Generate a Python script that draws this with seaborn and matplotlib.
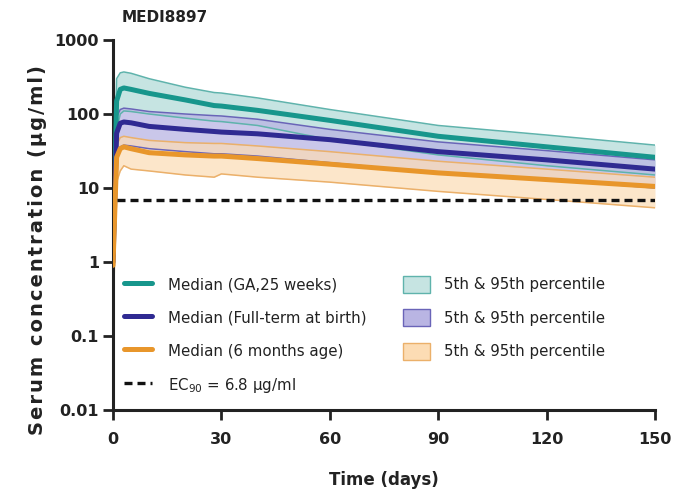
import numpy as np
import pandas as pd
import matplotlib
matplotlib.use("Agg")
import matplotlib.pyplot as plt
import seaborn as sns
from matplotlib.patches import Patch
from matplotlib.lines import Line2D

# ---- data ----
days = [0, 1, 2, 3, 5, 10, 20, 28, 30, 40, 60, 90, 120, 150]

ga_median = [1.2, 150, 215, 225, 215, 190, 155, 130, 128, 112, 82, 50, 36, 26]
ga_p95 = [3.0, 300, 360, 370, 355, 300, 230, 195, 192, 165, 115, 70, 52, 38]
ga_p5 = [0.09, 60, 100, 110, 108, 100, 88, 80, 79, 70, 45, 28, 20, 15]

ft_median = [1.0, 55, 75, 78, 76, 68, 62, 58, 57, 54, 45, 31, 24, 18]
ft_p95 = [2.0, 90, 115, 120, 117, 108, 100, 95, 94, 85, 62, 42, 32, 24]
ft_p5 = [0.3, 28, 36, 38, 37, 34, 31, 29, 29, 27, 22, 16, 13, 10]

m6_median = [0.9, 26, 34, 36, 34, 30, 28, 27, 27, 25, 21, 16, 13, 10.5]
m6_p95 = [1.5, 38, 48, 50, 48, 44, 41, 40, 40, 37, 31, 23, 18, 14]
m6_p5 = [0.15, 12, 17, 20, 18, 17, 15, 14, 15.5, 14, 12, 9, 7, 5.4]

ec90 = 6.8

median_labels = ["Median (GA,25 weeks)", "Median (Full-term at birth)", "Median (6 months age)"]
band_label = "5th & 95th percentile"
ec90_label = r"EC$_{90}$ = 6.8 $\mu$g/ml"
x_ticks = [0, 30, 60, 90, 120, 150]
y_ticks = [0.01, 0.1, 1, 10, 100, 1000]
y_ticklabels = ["0.01", "0.1", "1", "10", "100", "1000"]
title = "MEDI8897"
xlabel = "Time (days)"
ylabel = "Serum concentration (\u03bcg/ml)"

# ---- styling ----
sns.set_theme(style="ticks")
plt.rcParams["font.family"] = ["DejaVu Sans"]
plt.rcParams["mathtext.default"] = "regular"

line_cols = ["#17968c", "#2f2a92", "#e8962b"]
band_cols = ["#c6e4e2", "#b9b5e3", "#fcdcb4"]
edge_cols = ["#5fb3ac", "#6a64b8", "#ebb06a"]
W, H = 674, 493

fig = plt.figure(figsize=(W / 100, H / 100), dpi=100)
ax = fig.add_axes([113 / W, 1 - 410 / H, (655 - 113) / W, (410 - 40) / H])

bands = [(ga_p5, ga_p95), (ft_p5, ft_p95), (m6_p5, m6_p95)]
alphas = [1.0, 0.75, 0.7]
for (lo, hi), bc, ec, a in zip(bands, band_cols, edge_cols, alphas):
    ax.fill_between(days, lo, hi, color=bc, alpha=a, lw=0, zorder=1)
    ax.plot(days, lo, color=ec, lw=1.1, zorder=2)
    ax.plot(days, hi, color=ec, lw=1.1, zorder=2)

rows = []
for lab, vals in zip(median_labels, [ga_median, ft_median, m6_median]):
    for d, v in zip(days, vals):
        rows.append({"day": d, "conc": v, "group": lab})
df = pd.DataFrame(rows)
sns.lineplot(data=df, x="day", y="conc", hue="group", hue_order=median_labels,
             palette=line_cols, lw=3.6, ax=ax, legend=False, zorder=3)

dash = (0, (2.4, 1.5))
ax.plot([1, 150], [ec90, ec90], color="#111111", lw=2.4, ls=dash, zorder=4)

ax.set_yscale("log")
ax.set_xlim(0, 150)
ax.set_ylim(0.01, 1000)
ax.set_xticks(x_ticks)
ax.set_xticklabels([str(t) for t in x_ticks], fontsize=11.5, fontweight="bold")
ax.set_yticks(y_ticks)
ax.set_yticklabels(y_ticklabels, fontsize=11.5, fontweight="bold")
ax.yaxis.set_minor_locator(matplotlib.ticker.NullLocator())
ax.tick_params(axis="both", direction="out", length=7, width=2, color="#222222", labelcolor="#222222")
ax.tick_params(axis="x", pad=9)
ax.tick_params(axis="y", pad=3)
for s in ["top", "right"]:
    ax.spines[s].set_visible(False)
for s in ["left", "bottom"]:
    ax.spines[s].set_linewidth(2.2)
    ax.spines[s].set_color("#222222")

ax.set_xlabel("")
ax.set_ylabel("")
fig.text((113 + 655) / 2 / W, 1 - 480 / H, xlabel, fontsize=12, fontweight="bold",
         ha="center", va="center", color="#222222")
spaced = "\u200a".join(list(ylabel))
fig.text(38 / W, 1 - 250 / H, spaced, fontsize=14, fontweight="bold", rotation=90,
         ha="center", va="center", color="#222222")
fig.text(122 / W, 1 - 18 / H, title, fontsize=11, fontweight="bold",
         ha="left", va="center", color="#222222")

fs = 10.8
left_handles = [Line2D([], [], color=c, lw=3.6) for c in line_cols]
left_handles.append(Line2D([], [], color="#111111", lw=2.4, ls=dash))
leg1 = fig.legend(left_handles, median_labels + [ec90_label], loc="upper left",
                  bbox_to_anchor=(124 / W, 1 - 276 / H), borderaxespad=0, borderpad=0,
                  frameon=False, fontsize=fs, handlelength=1.85, handleheight=1.35,
                  labelspacing=1.1, handletextpad=1.05)
right_handles = [Patch(facecolor=bc, edgecolor=ec, lw=1) for bc, ec in zip(band_cols, edge_cols)]
leg2 = fig.legend(right_handles, [band_label] * 3, loc="upper left",
                  bbox_to_anchor=(403 / W, 1 - 276 / H), borderaxespad=0, borderpad=0,
                  frameon=False, fontsize=fs, handlelength=1.8, handleheight=1.35,
                  labelspacing=1.1, handletextpad=0.95)
for t in leg1.get_texts() + leg2.get_texts():
    t.set_color("#222222")

fig.savefig("out.png", dpi=100, facecolor="white")
